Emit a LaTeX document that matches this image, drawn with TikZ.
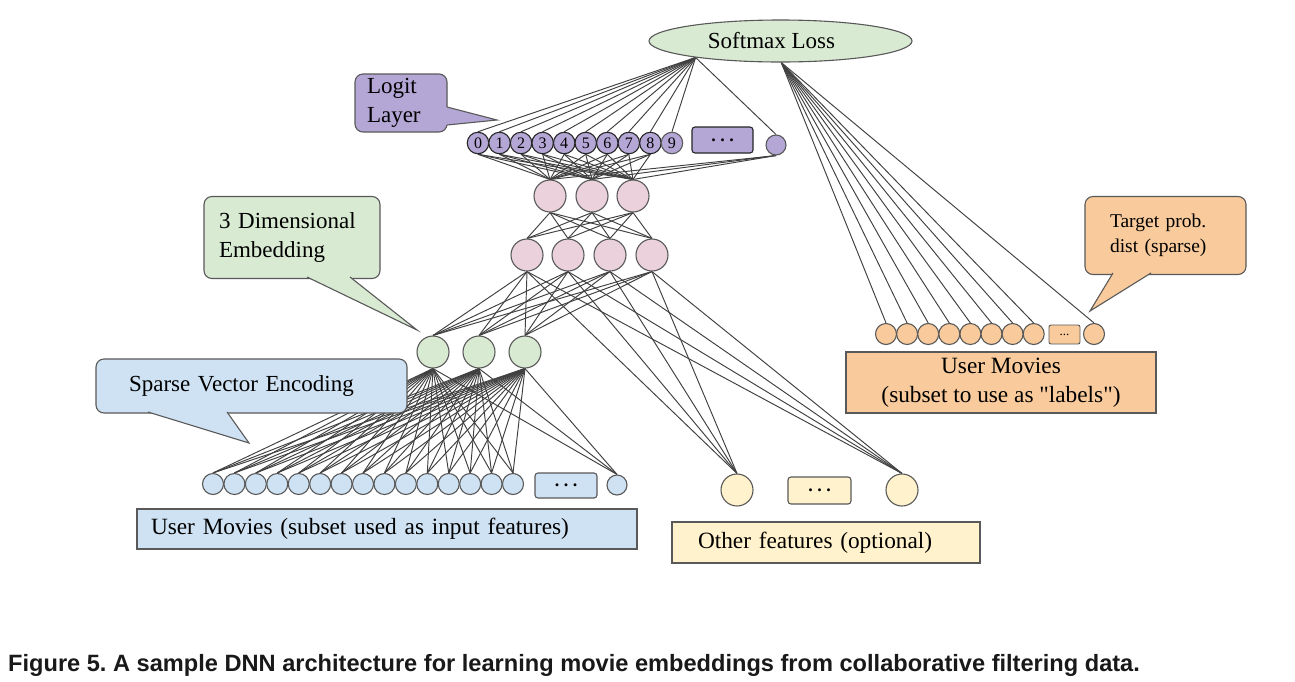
\documentclass[tikz,border=0pt]{standalone}
\usepackage{fontspec}
\setmainfont{Liberation Serif}
\newfontfamily\qfont{Liberation Serif}[Ligatures=ResetAll]
\newfontfamily\capfont{Liberation Sans}
\usetikzlibrary{shapes.geometric}
\pgfdeclarelayer{bg}
\pgfdeclarelayer{edges}
\pgfsetlayers{bg,edges,main}
\definecolor{cPurple}{HTML}{B4A7D6}
\definecolor{cPink}{HTML}{EAD1DC}
\definecolor{cGreen}{HTML}{D9EAD3}
\definecolor{cBlue}{HTML}{CFE2F3}
\definecolor{cYellow}{HTML}{FFF2CC}
\definecolor{cOrange}{HTML}{F9CB9C}
\definecolor{cBorder}{HTML}{595959}
\definecolor{cLine}{HTML}{404040}
\frenchspacing
\tikzset{
  neuron/.style={circle, draw=cBorder, line width=1.1pt, inner sep=0pt},
  big/.style={neuron, minimum size=32pt},
  small/.style={neuron, minimum size=21pt},
  logit/.style={neuron, fill=cPurple, minimum size=21.5pt, draw=black!85, font=\fontsize{16}{16}\selectfont},
  dotsbox/.style={draw=cBorder, line width=1.1pt, rounded corners=3pt, inner sep=0pt, font=\bfseries\fontsize{18}{18}\selectfont},
  conn/.style={draw=cLine, line width=0.95pt},
  labelbox/.style={draw=cBorder, line width=1.8pt, inner sep=0pt, font=\fontsize{23.3}{29}\selectfont},
  callout/.style={draw=cBorder, line width=1.1pt, rounded corners=8pt, inner ysep=0pt, font=\fontsize{23}{29}\selectfont},
  ptr/.style={draw=cBorder, line width=1.1pt, line join=miter},
}
\begin{document}
\begin{tikzpicture}[x=1pt,y=-1pt]
\begin{pgfonlayer}{bg}
\fill[white] (0,0) rectangle (1295,681);
\end{pgfonlayer}
\useasboundingbox (0,0) rectangle (1295,681);

% Softmax
\node[ellipse, draw=cBorder, line width=1.1pt, fill=cGreen, minimum width=263pt, minimum height=42pt, inner sep=0pt, font=\fontsize{23}{29}\selectfont] (sm) at (780.5,41) {\hspace*{-18pt}Softmax Loss};

% Logit layer
\foreach \i in {0,...,8} {
  \node[logit] (L\i) at ({478+21.55*\i},143) {\i};
}
\node[logit, draw=cBorder] (L9) at ({478+21.55*9},143) {9};
\node[dotsbox, fill=cPurple, draw=black!85, minimum width=61pt, minimum height=26pt] (Ld) at (722.5,140) {. . .};
\node[neuron, fill=cPurple, minimum size=20pt] (Lx) at (776,145) {};

% Hidden layers
\foreach \i/\x in {1/550,2/592,3/633} \node[big, fill=cPink] (Ha\i) at (\x,196) {};
\foreach \i/\x in {1/527,2/568,3/610,4/652} \node[big, fill=cPink] (Hb\i) at (\x,255) {};
% Embedding
\foreach \i/\x in {1/433,2/479,3/525} \node[big, fill=cGreen] (E\i) at (\x,352) {};

% Inputs
\foreach \i in {1,...,15} \node[small, fill=cBlue] (I\i) at ({213+21.43*(\i-1)},484) {};
\node[dotsbox, fill=cBlue, minimum width=62pt, minimum height=25pt] (Id) at (566,485.5) {. . .};
\node[small, fill=cBlue, minimum size=20pt] (Ix) at (617,485) {};

% Other features
\node[big, fill=cYellow] (O1) at (737,490) {};
\node[dotsbox, fill=cYellow, minimum width=63pt, minimum height=27pt] (Od) at (819.5,490.5) {. . .};
\node[big, fill=cYellow] (O2) at (902,490) {};

% Targets
\foreach \i in {1,...,8} \node[small, fill=cOrange] (T\i) at ({886+21.1*(\i-1)},334) {};
\node[draw=cBorder, line width=0.9pt, rounded corners=2pt, fill=cOrange, minimum width=31pt, minimum height=19pt, inner sep=0pt, font=\fontsize{13}{13}\selectfont] (Td) at (1064.5,334.5) {...};
\node[small, fill=cOrange] (Tx) at (1094,334) {};

% Label boxes
\node[labelbox, fill=cBlue, minimum width=500pt, minimum height=40pt, text width=472pt, inner xsep=14pt, align=left] (inbox) at (387,529) {User Movies (subset used as input features)};
\node[labelbox, fill=cYellow, minimum width=308pt, minimum height=41pt, text width=256pt, inner xsep=26pt, align=left] (otherbox) at (826,542.5) {Other features (optional)};
\node[labelbox, fill=cOrange, minimum width=310pt, minimum height=61pt, align=center] (labbox) at (1001,382.5) {User Movies\\(subset to use as {\qfont"}labels{\qfont"})};

% Callouts
\node[callout, fill=cPurple, minimum width=92pt, minimum height=58pt, text width=68pt, inner xsep=12pt, align=left] (cLogit) at (401,103) {Logit\\Layer};
\fill[cPurple] (444,107) -- (447,107) -- (497,120) -- (447,125) -- (444,125) -- cycle;
\draw[ptr] (447,107) -- (497,120) -- (447,125);

\node[callout, fill=cGreen, minimum width=176pt, minimum height=82pt, text width=146pt, inner xsep=15pt, align=left] (cEmb) at (292,237.5) {3 Dimensional\\Embedding};
\fill[cGreen] (307,274) -- (307,277) -- (417,330) -- (350,277) -- (350,274) -- cycle;
\draw[ptr] (307,277) -- (417,330) -- (350,277);

\node[callout, fill=cBlue, minimum width=311pt, minimum height=54pt, text width=245pt, inner xsep=33pt, align=left] (cSparse) at (251.5,386) {Sparse Vector Encoding};
\fill[cBlue] (148,409) -- (148,412) -- (249,443) -- (227,412) -- (227,409) -- cycle;
\draw[ptr] (148,412) -- (249,443) -- (227,412);

\node[callout, fill=cOrange, minimum width=161pt, minimum height=78pt, text width=111pt, inner xsep=25pt, align=left, font=\fontsize{19.5}{25}\selectfont] (cTarget) at (1165.5,235.5) {Target prob.\\dist (sparse)};
\fill[cOrange] (1113,270) -- (1113,273) -- (1090,311) -- (1151,273) -- (1151,270) -- cycle;
\draw[ptr] (1113,273) -- (1090,311) -- (1151,273);

% Connections
\begin{pgfonlayer}{edges}
\foreach \n in {L0,L1,L2,L3,L4,L5,L6,L7,L8,L9,Lx} \draw[conn] (sm.191) -- (\n.north);
\foreach \n in {T1,T2,T3,T4,T5,T6,T7,T8,Tx} \draw[conn] (sm.272) -- (\n.north);
\foreach \n in {L0,L1,L2,L3,L4,L5,L6,L7,L8,Lx}
  \foreach \h in {Ha1,Ha2,Ha3} \draw[conn] (\n.south) -- (\h.north);
\foreach \a in {Ha1,Ha2,Ha3}
  \foreach \b in {Hb1,Hb2,Hb3,Hb4} \draw[conn] (\a.south) -- (\b.north);
\foreach \b in {Hb1,Hb2,Hb3,Hb4} {
  \foreach \e in {E1,E2,E3} \draw[conn] (\b.south) -- (\e.north);
  \foreach \o in {O1,O2} \draw[conn] (\b.south) -- (\o.north);
}
\foreach \e in {E1,E2,E3}
  \foreach \n in {I1,I2,I3,I4,I5,I6,I7,I8,I9,I10,I11,I12,I13,I14,I15,Ix} \draw[conn] (\e.south) -- (\n.north);
\end{pgfonlayer}

% Caption
\node[anchor=base west, inner sep=0pt, text=black!90, font=\capfont\bfseries\fontsize{23.6}{28}\selectfont] (cap) at (8,671) {Figure 5. A sample DNN architecture for learning movie embeddings from collaborative filtering data.};
\end{tikzpicture}
\end{document}
